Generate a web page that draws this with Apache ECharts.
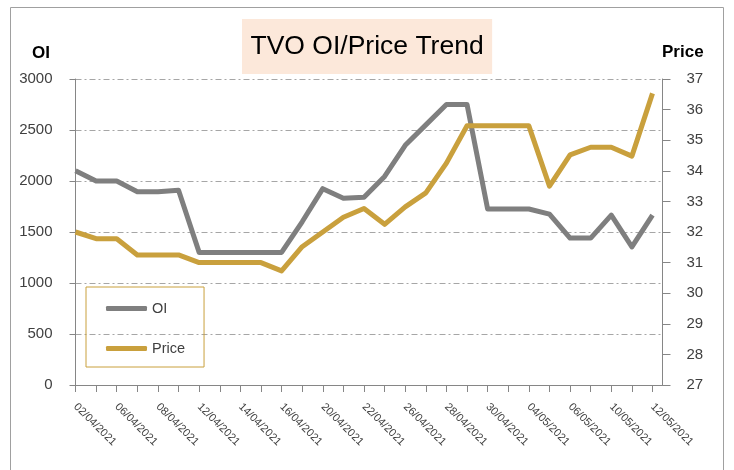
<!DOCTYPE html>
<html>
<head>
<meta charset="utf-8">
<title>TVO OI/Price Trend</title>
<script src="https://cdn.jsdelivr.net/npm/echarts@6.0.0/dist/echarts.min.js"></script>
<style>
  html, body { margin: 0; padding: 0; background: #fff; }
  #chart { width: 734px; height: 470px; }
</style>
</head>
<body>
<div id="chart"></div>
<script>
// trading days, labels shown every other one
const dates = [
  '02/04/2021', '05/04/2021', '06/04/2021', '07/04/2021', '08/04/2021', '09/04/2021',
  '12/04/2021', '13/04/2021', '14/04/2021', '15/04/2021', '16/04/2021',
  '19/04/2021', '20/04/2021', '21/04/2021', '22/04/2021', '23/04/2021',
  '26/04/2021', '27/04/2021', '28/04/2021', '29/04/2021', '30/04/2021',
  '03/05/2021', '04/05/2021', '05/05/2021', '06/05/2021', '07/05/2021',
  '10/05/2021', '11/05/2021', '12/05/2021'
];

const oiValues = [
  2100, 2000, 2000, 1895, 1895, 1910,
  1300, 1300, 1300, 1300, 1300,
  1600, 1925, 1830, 1840, 2045,
  2350, 2550, 2750, 2750, 1725,
  1725, 1725, 1675, 1440, 1440,
  1665, 1355, 1665
];

const priceValues = [
  32.0, 31.78, 31.78, 31.25, 31.25, 31.25,
  31.0, 31.0, 31.0, 31.0, 30.73,
  31.52, 32.0, 32.48, 32.77, 32.25,
  32.82, 33.28, 34.25, 35.47, 35.47,
  35.47, 35.47, 33.5, 34.52, 34.77,
  34.77, 34.48, 36.53
];

const oiRange = { min: 0, max: 3000, step: 500 };
const priceRange = { min: 27, max: 37, step: 1 };

const FONT = '"Liberation Sans", Arial, sans-serif';
const GREY = '#7F7F7F';
const GOLD = '#C9A03D';
const AXIS = '#868686';
const LABEL = '#404040';

const chart = echarts.init(document.getElementById('chart'), null, { renderer: 'canvas' });

const option = {
  animation: false,
  textStyle: { fontFamily: FONT },
  graphic: [
    {
      type: 'rect',
      shape: { x: 10.5, y: 7.5, width: 713, height: 520 },
      style: { fill: 'none', stroke: '#A0A0A0', lineWidth: 1 },
      silent: true
    }
  ],
  title: [
    {
      text: 'TVO OI/Price Trend',
      left: 242,
      top: 19,
      padding: [14, 8.5, 14, 8.5],
      backgroundColor: '#FCE8DA',
      textStyle: { fontFamily: FONT, fontSize: 26.5, fontWeight: 'normal', color: '#000', lineHeight: 27 }
    },
    {
      text: 'OI',
      left: 32,
      top: 45,
      padding: 0,
      textStyle: { fontFamily: FONT, fontSize: 17, fontWeight: 'bold', color: '#000' }
    },
    {
      text: 'Price',
      left: 662,
      top: 44,
      padding: 0,
      textStyle: { fontFamily: FONT, fontSize: 17, fontWeight: 'bold', color: '#000' }
    }
  ],
  legend: {
    data: [
      { name: 'OI', icon: 'roundRect' },
      { name: 'Price', icon: 'roundRect' }
    ],
    orient: 'vertical',
    left: 86,
    top: 287,
    padding: [14, 19, 11, 20],
    itemGap: 25,
    itemWidth: 41,
    itemHeight: 5,
    borderColor: GOLD,
    borderWidth: 1,
    textStyle: { fontFamily: FONT, fontSize: 14.5, color: LABEL, lineHeight: 15 }
  },
  grid: [
    { left: 75.5, top: 79, width: 587, height: 306 },
    { left: 75.5, top: 79, width: 577, height: 306 }
  ],
  xAxis: [
    {
      gridIndex: 0,
      type: 'value',
      min: 0,
      max: 1,
      axisLine: { show: true, onZero: false, lineStyle: { color: AXIS, width: 1 } },
      axisTick: { show: false },
      axisLabel: { show: false },
      splitLine: { show: false }
    },
    {
      gridIndex: 1,
      type: 'category',
      data: dates,
      boundaryGap: false,
      axisLine: { show: false },
      axisTick: { show: true, interval: 0, length: 7, lineStyle: { color: AXIS } },
      axisLabel: {
        interval: 1,
        rotate: -45,
        margin: 20,
        fontFamily: FONT,
        fontSize: 11,
        color: LABEL
      },
      splitLine: { show: false }
    }
  ],
  yAxis: [
    {
      gridIndex: 0,
      type: 'value',
      position: 'left',
      min: oiRange.min,
      max: oiRange.max,
      interval: oiRange.step,
      axisLine: { show: true, lineStyle: { color: AXIS } },
      axisTick: { show: true, length: 6, lineStyle: { color: AXIS } },
      axisLabel: {
        margin: 23,
        fontFamily: FONT,
        fontSize: 15,
        color: LABEL,
        formatter: (v) => String(v)
      },
      splitLine: { show: true, lineStyle: { color: '#A6A6A6', width: 1, type: [6, 3, 2, 3] } }
    },
    {
      gridIndex: 0,
      type: 'value',
      position: 'right',
      min: priceRange.min,
      max: priceRange.max,
      interval: priceRange.step,
      axisLine: { show: true, lineStyle: { color: AXIS } },
      axisTick: { show: true, length: 8, lineStyle: { color: AXIS } },
      axisLabel: { margin: 24, fontFamily: FONT, fontSize: 15, color: LABEL },
      splitLine: { show: false }
    },
    { gridIndex: 1, type: 'value', min: oiRange.min, max: oiRange.max, show: false },
    { gridIndex: 1, type: 'value', min: priceRange.min, max: priceRange.max, show: false }
  ],
  series: [
    {
      name: 'OI',
      type: 'line',
      xAxisIndex: 1,
      yAxisIndex: 2,
      data: oiValues,
      symbol: 'none',
      lineStyle: { color: GREY, width: 5, join: 'round' },
      itemStyle: { color: GREY }
    },
    {
      name: 'Price',
      type: 'line',
      xAxisIndex: 1,
      yAxisIndex: 3,
      data: priceValues,
      symbol: 'none',
      lineStyle: { color: GOLD, width: 5, join: 'round' },
      itemStyle: { color: GOLD }
    }
  ]
};

chart.setOption(option);
</script>
</body>
</html>
